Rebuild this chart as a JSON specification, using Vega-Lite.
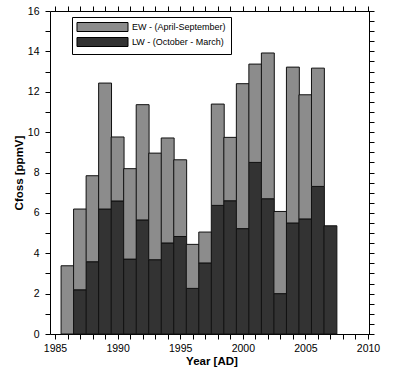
{
  "$schema": "https://vega.github.io/schema/vega-lite/v6.json",
  "width": 323,
  "height": 323,
  "autosize": "none",
  "padding": {"left": 50, "top": 11, "right": 27, "bottom": 37},
  "background": "white",
  "config": {
    "font": "Liberation Sans",
    "view": {"stroke": null},
    "axis": {
      "domainColor": "#000", "tickColor": "#000", "labelColor": "#000", "titleColor": "#000",
      "grid": false, "tickSize": 5, "labelFontSize": 10.5, "labelFont": "Liberation Sans",
      "titleFont": "Liberation Sans", "titleFontSize": 11.5, "titleFontWeight": "bold",
      "labelOverlap": false, "labelFlush": false
    }
  },
  "data": {"values": [
    {"year": 1986, "season": "EW - (April-September)", "value": 3.38},
    {"year": 1987, "season": "LW - (October - March)", "value": 2.19},
    {"year": 1987, "season": "EW - (April-September)", "value": 4.00},
    {"year": 1988, "season": "LW - (October - March)", "value": 3.58},
    {"year": 1988, "season": "EW - (April-September)", "value": 4.26},
    {"year": 1989, "season": "LW - (October - March)", "value": 6.19},
    {"year": 1989, "season": "EW - (April-September)", "value": 6.24},
    {"year": 1990, "season": "LW - (October - March)", "value": 6.59},
    {"year": 1990, "season": "EW - (April-September)", "value": 3.17},
    {"year": 1991, "season": "LW - (October - March)", "value": 3.71},
    {"year": 1991, "season": "EW - (April-September)", "value": 4.48},
    {"year": 1992, "season": "LW - (October - March)", "value": 5.65},
    {"year": 1992, "season": "EW - (April-September)", "value": 5.71},
    {"year": 1993, "season": "LW - (October - March)", "value": 3.68},
    {"year": 1993, "season": "EW - (April-September)", "value": 5.28},
    {"year": 1994, "season": "LW - (October - March)", "value": 4.51},
    {"year": 1994, "season": "EW - (April-September)", "value": 5.20},
    {"year": 1995, "season": "LW - (October - March)", "value": 4.83},
    {"year": 1995, "season": "EW - (April-September)", "value": 3.80},
    {"year": 1996, "season": "LW - (October - March)", "value": 2.26},
    {"year": 1996, "season": "EW - (April-September)", "value": 2.18},
    {"year": 1997, "season": "LW - (October - March)", "value": 3.52},
    {"year": 1997, "season": "EW - (April-September)", "value": 1.53},
    {"year": 1998, "season": "LW - (October - March)", "value": 6.37},
    {"year": 1998, "season": "EW - (April-September)", "value": 5.02},
    {"year": 1999, "season": "LW - (October - March)", "value": 6.60},
    {"year": 1999, "season": "EW - (April-September)", "value": 3.14},
    {"year": 2000, "season": "LW - (October - March)", "value": 5.22},
    {"year": 2000, "season": "EW - (April-September)", "value": 7.18},
    {"year": 2001, "season": "LW - (October - March)", "value": 8.50},
    {"year": 2001, "season": "EW - (April-September)", "value": 4.87},
    {"year": 2002, "season": "LW - (October - March)", "value": 6.70},
    {"year": 2002, "season": "EW - (April-September)", "value": 7.22},
    {"year": 2003, "season": "LW - (October - March)", "value": 2.00},
    {"year": 2003, "season": "EW - (April-September)", "value": 4.07},
    {"year": 2004, "season": "LW - (October - March)", "value": 5.50},
    {"year": 2004, "season": "EW - (April-September)", "value": 7.72},
    {"year": 2005, "season": "LW - (October - March)", "value": 5.70},
    {"year": 2005, "season": "EW - (April-September)", "value": 6.15},
    {"year": 2006, "season": "LW - (October - March)", "value": 7.31},
    {"year": 2006, "season": "EW - (April-September)", "value": 5.86},
    {"year": 2007, "season": "LW - (October - March)", "value": 5.36}
  ]},
  "layer": [
    {
      "mark": {"type": "bar", "width": 12.9, "stroke": "#111", "strokeWidth": 1},
      "encoding": {
        "x": {
          "field": "year", "type": "quantitative",
          "scale": {"domain": [1985, 2010], "nice": false, "zero": false},
          "axis": {
            "orient": "bottom", "title": "Year [AD]", "format": "d",
            "values": [1985,1986,1987,1988,1989,1990,1991,1992,1993,1994,1995,1996,1997,1998,1999,2000,2001,2002,2003,2004,2005,2006,2007,2008,2009,2010],
            "labelExpr": "datum.value % 5 === 0 ? datum.label : ''",
            "labelPadding": 4, "titlePadding": 2
          }
        },
        "y": {
          "field": "value", "type": "quantitative", "stack": "zero",
          "scale": {"domain": [0, 16], "nice": false},
          "axis": {
            "orient": "left", "title": "Cfoss [ppmV]", "format": "d",
            "values": [0,0.5,1,1.5,2,2.5,3,3.5,4,4.5,5,5.5,6,6.5,7,7.5,8,8.5,9,9.5,10,10.5,11,11.5,12,12.5,13,13.5,14,14.5,15,15.5,16],
            "labelExpr": "datum.value % 2 === 0 ? datum.label : ''",
            "labelPadding": 6, "titlePadding": 3
          }
        },
        "color": {
          "field": "season", "type": "nominal",
          "scale": {"domain": ["EW - (April-September)", "LW - (October - March)"], "range": ["#8c8c8c", "#333333"]},
          "legend": {
            "title": null, "orient": "none", "legendX": 22, "legendY": 6,
            "strokeColor": "#000", "fillColor": "white", "padding": 5, "cornerRadius": 0,
            "symbolType": "M-5.67,-1H5.67V1H-5.67Z", "symbolSize": 81,
            "symbolStrokeColor": "#000", "symbolStrokeWidth": 1, "symbolOpacity": 1,
            "symbolOffset": 20.5, "labelOffset": 24.5,
            "labelFontSize": 9, "labelColor": "#000", "labelFont": "Liberation Sans", "rowPadding": 1
          }
        },
        "order": {"field": "season", "sort": "descending"}
      }
    },
    {
      "mark": {"type": "bar", "width": 12.9, "opacity": 0},
      "encoding": {
        "x": {
          "field": "year", "type": "quantitative",
          "axis": {
            "orient": "top", "title": null, "labels": false,
            "values": [1985,1986,1987,1988,1989,1990,1991,1992,1993,1994,1995,1996,1997,1998,1999,2000,2001,2002,2003,2004,2005,2006,2007,2008,2009,2010]
          }
        },
        "y": {
          "field": "value", "type": "quantitative", "stack": "zero",
          "axis": {
            "orient": "right", "title": null, "labels": false, "offset": -4,
            "values": [0,0.5,1,1.5,2,2.5,3,3.5,4,4.5,5,5.5,6,6.5,7,7.5,8,8.5,9,9.5,10,10.5,11,11.5,12,12.5,13,13.5,14,14.5,15,15.5,16]
          }
        }
      }
    }
  ],
  "resolve": {"axis": {"x": "independent", "y": "independent"}}
}
